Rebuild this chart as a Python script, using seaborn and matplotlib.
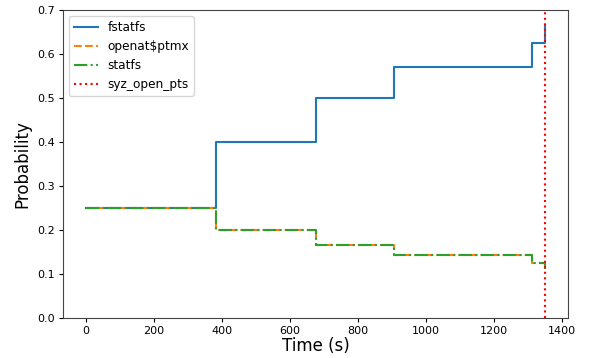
import matplotlib
matplotlib.use('Agg')
import matplotlib.pyplot as plt
import pandas as pd
import seaborn as sns

# change points (s) where the probabilities get recomputed
times = [0, 383, 677, 906, 1312, 1352]

fstatfs = [1 / 4, 2 / 5, 3 / 6, 4 / 7, 5 / 8, 6 / 9]
openat_ptmx = [1 / 4, 1 / 5, 1 / 6, 1 / 7, 1 / 8, 1 / 9]
statfs = [1 / 4, 1 / 5, 1 / 6, 1 / 7, 1 / 8, 1 / 9]

# syz_open_pts only shows up at the very end
syz_times = [1352, 1352]
syz_open_pts = [0, 1.0]

series = [
    ('fstatfs', times, fstatfs, '#1f77b4', '-'),
    ('openat$ptmx', times, openat_ptmx, '#ff7f0e', '--'),
    ('statfs', times, statfs, '#2ca02c', '-.'),
    ('syz_open_pts', syz_times, syz_open_pts, 'red', ':'),
]

fig = plt.figure(figsize=(5.89, 3.58), dpi=100)
ax = fig.add_axes([0.1065, 0.112, 0.8585, 0.86])

for name, t, vals, color, ls in series:
    df = pd.DataFrame({'time': t, 'prob': vals})
    sns.lineplot(data=df, x='time', y='prob', ax=ax, drawstyle='steps-post',
                 estimator=None, sort=False,
                 color=color, linestyle=ls, linewidth=1.5, label=name)

ax.set_ylim(0, 0.7)
ax.set_xlim(-67.6, 1419.6)
ax.set_xlabel('Time (s)', fontsize=12, labelpad=1)
ax.set_ylabel('Probability', fontsize=12)
ax.tick_params(labelsize=8, length=3, pad=2.5)
for s in ax.spines.values():
    s.set_color('#444444')
ax.legend(loc='upper left', fontsize=8.7)

fig.savefig('out.png', dpi=100)
